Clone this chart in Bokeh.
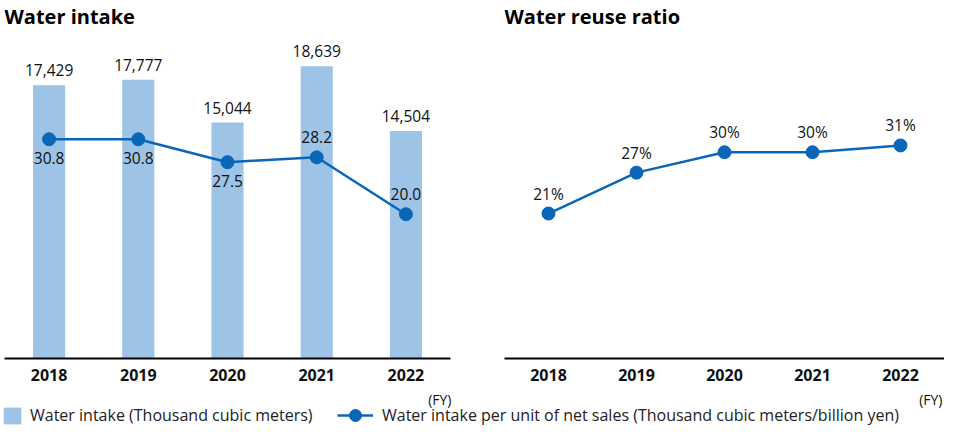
from bokeh.plotting import figure
from bokeh.models import (ColumnDataSource, Range1d, FactorRange, Label, Legend,
                          LegendItem)
from bokeh.layouts import column, row
from bokeh.embed import file_html
from bokeh.resources import INLINE
from bokeh.core.properties import value

# ---------------- data ----------------
years = ["2018", "2019", "2020", "2021", "2022"]
intake = [17429, 17777, 15044, 18639, 14504]
intake_labels = ["17,429", "17,777", "15,044", "18,639", "14,504"]
per_sales = [30.8, 30.8, 27.5, 28.2, 20.0]
per_sales_labels = ["30.8", "30.8", "27.5", "28.2", "20.0"]
per_sales_side = ["below", "below", "below", "above", "above"]
reuse = [21, 27, 30, 30, 31]
reuse_labels = ["21%", "27%", "30%", "30%", "31%"]

title_left = "Water intake"
title_right = "Water reuse ratio"
fy_text = "(FY)"
legend_bar = "Water intake (Thousand cubic meters)"
legend_line = "Water intake per unit of net sales (Thousand cubic meters/billion yen)"

# ---------------- style ----------------
FONT = "Open Sans"
BAR = "#9dc3e6"
BLUE = "#0a66b7"
TXT = "#111111"

FRAME_H = 358
TOP_H = 386
LEG_H = 40
LEFT_W, RIGHT_W = 478, 466
LEFT_B, RIGHT_B = 4, 26            # left borders of the two frames
LEFT_FW = 446                      # left frame width
BAR_PX = 0.01568                   # px per thousand m3
SEC_PX = 6.94                      # px per unit (left line)
RIGHT_PX = 6.81                    # px per % (right line)


def base_fig(width, border_left, border_right, y_range):
    p = figure(width=width, height=TOP_H, x_range=FactorRange(factors=years),
               y_range=y_range, output_backend="svg", toolbar_location=None,
               y_axis_type=None, min_border_left=border_left,
               min_border_right=border_right, min_border_top=0,
               min_border_bottom=TOP_H - FRAME_H)
    p.outline_line_color = None
    p.xgrid.grid_line_color = None
    p.ygrid.grid_line_color = None
    ax = p.xaxis[0]
    ax.axis_line_color = "#000000"
    ax.axis_line_width = 2
    ax.major_tick_line_color = None
    ax.minor_tick_line_color = None
    ax.major_tick_out = 0
    ax.major_tick_in = 0
    ax.minor_tick_out = 0
    ax.axis_label_standoff = 0
    ax.major_label_text_font = FONT
    ax.major_label_text_font_style = "bold"
    ax.major_label_text_font_size = "16px"
    ax.major_label_text_color = TXT
    ax.major_label_standoff = 10
    return p


def add_title(p, text):
    p.add_layout(Label(x=0, y=FRAME_H - 16, x_units="screen", y_units="screen",
                       text=text, text_font=FONT, text_font_style="bold",
                       text_font_size="20px", text_color="#000000",
                       text_baseline="alphabetic"))


LBL = dict(text_align="center", text_baseline="alphabetic",
           text_font=value(FONT), text_font_size="15.5px", text_color=TXT)

# ---------------- left chart ----------------
left = base_fig(LEFT_W, LEFT_B, LEFT_W - LEFT_B - LEFT_FW,
                Range1d(0, FRAME_H / BAR_PX))
sec_start = -0.79
left.extra_y_ranges = {"sec": Range1d(sec_start, sec_start + FRAME_H / SEC_PX)}

src_l = ColumnDataSource(dict(
    year=years, intake=intake, intake_lbl=intake_labels,
    ps=per_sales, ps_lbl=per_sales_labels,
    ps_off=[19 if s == "below" else -20 for s in per_sales_side],
))
left.vbar(x="year", top="intake", width=0.36, source=src_l, fill_color=BAR,
          line_color=None)
left.text(x="year", y="intake", text="intake_lbl", source=src_l, y_offset=-15,
          **LBL)
left.line(x="year", y="ps", source=src_l, y_range_name="sec", line_color=BLUE,
          line_width=2.5)
left.scatter(x="year", y="ps", source=src_l, y_range_name="sec", size=13,
             fill_color=BLUE, line_color=BLUE)
left.text(x="year", y="ps", text="ps_lbl", source=src_l, y_range_name="sec",
          y_offset="ps_off", **LBL)
add_title(left, title_left)

# ---------------- right chart ----------------
r_start = -0.29
right = base_fig(RIGHT_W, RIGHT_B, 0,
                 Range1d(r_start, r_start + FRAME_H / RIGHT_PX))
src_r = ColumnDataSource(dict(year=years, reuse=reuse, lbl=reuse_labels))
right.line(x="year", y="reuse", source=src_r, line_color=BLUE, line_width=2.5)
right.scatter(x="year", y="reuse", source=src_r, size=13, fill_color=BLUE,
              line_color=BLUE)
right.text(x="year", y="reuse", text="lbl", source=src_r, y_offset=-20, **LBL)
add_title(right, title_right)

# ---------------- legend strip (with the FY notes) ----------------
TOTAL_W = LEFT_W + RIGHT_W
leg = figure(width=TOTAL_W, height=LEG_H, x_range=Range1d(0, 1),
             y_range=Range1d(0, 1), x_axis_type=None, y_axis_type=None,
             toolbar_location=None, output_backend="svg", min_border=0)
leg.outline_line_color = None
leg.xgrid.grid_line_color = None
leg.ygrid.grid_line_color = None

for fx in (LEFT_B + LEFT_FW + 1, TOTAL_W - 2):
    leg.add_layout(Label(x=fx, y=27, x_units="screen", y_units="screen",
                         text=fy_text, text_font=FONT, text_font_size="14px",
                         text_color=TXT, text_align="right",
                         text_baseline="alphabetic"))

# legend keys only: points placed outside the visible range
key_src = ColumnDataSource(dict(x=[5, 6], y=[5, 6]))
r_bar = leg.vbar(x="x", top="y", width=0.5, source=key_src, fill_color=BAR,
                 line_color=None)
r_line = leg.line(x="x", y="y", source=key_src, line_color=BLUE, line_width=2.5)
r_dot = leg.scatter(x="x", y="y", source=key_src, size=12, fill_color=BLUE,
                    line_color=BLUE)

common = dict(padding=0, margin=0, spacing=0, border_line_color=None,
              background_fill_alpha=0, label_text_font=FONT,
              label_text_font_size="16px", label_text_color="#222222")
l1 = Legend(items=[LegendItem(label=legend_bar, renderers=[r_bar])],
            location=(1, 0), glyph_width=22, glyph_height=21, label_height=21,
            label_standoff=7, **common)
l2 = Legend(items=[LegendItem(label=legend_line, renderers=[r_line, r_dot])],
            location=(337, -4), glyph_width=36, glyph_height=30, label_height=30,
            label_standoff=9, **common)
leg.add_layout(l1)
leg.add_layout(l2)

layout = column(row(left, right), leg)
open("out.html", "w").write(file_html(layout, INLINE))
